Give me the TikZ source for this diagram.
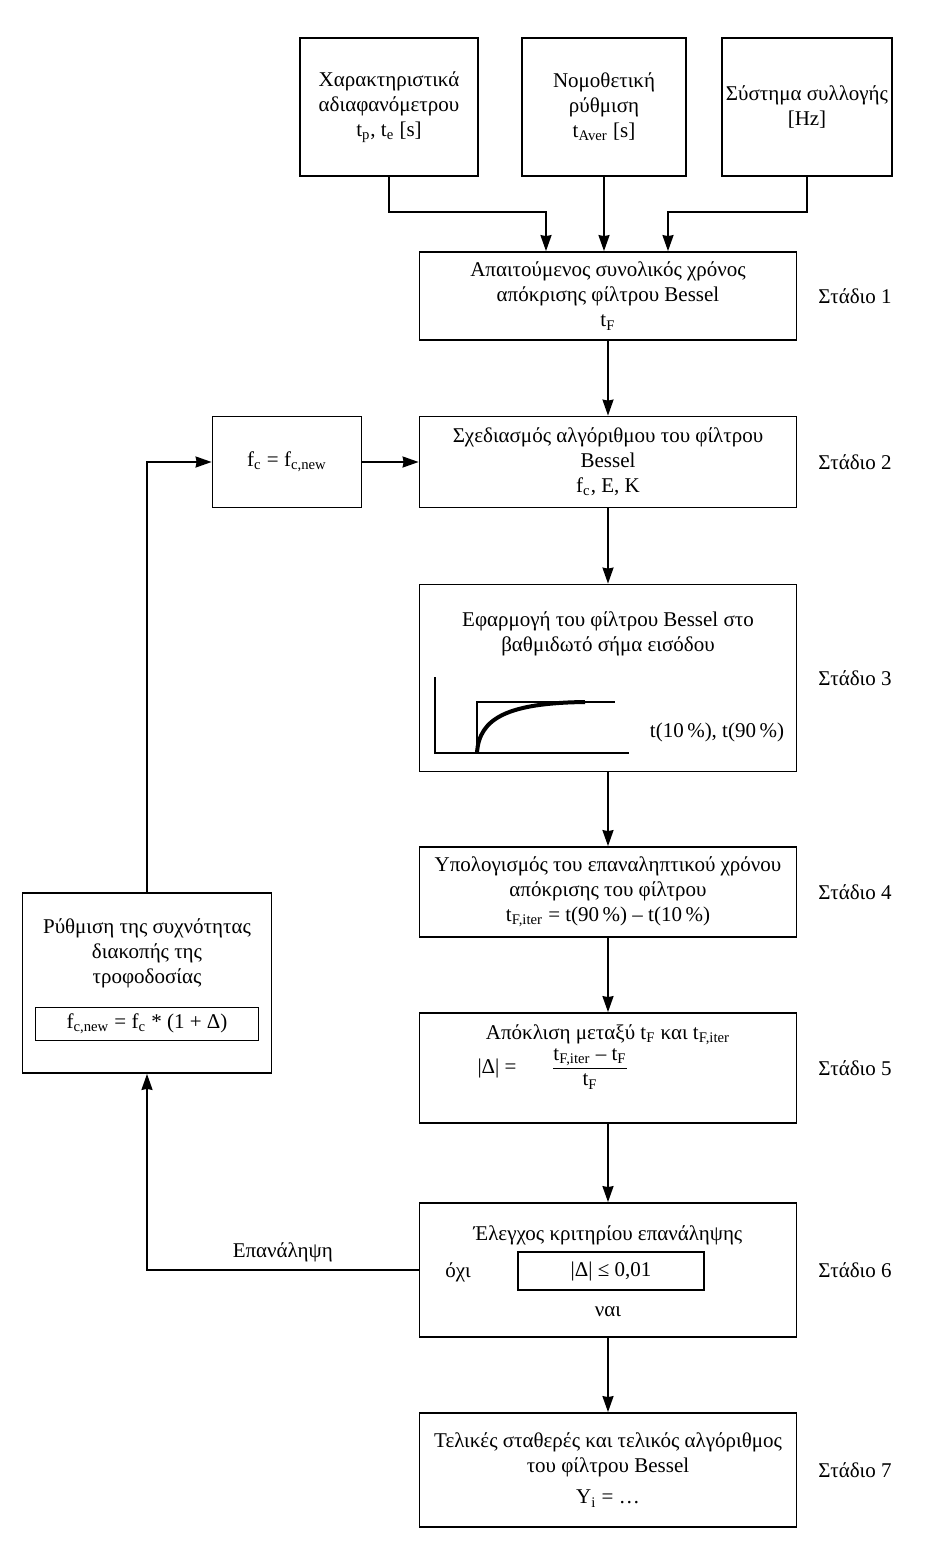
\documentclass[tikz,border=0pt]{standalone}
\usepackage{fontspec}
\setmainfont{Liberation Serif}
\usetikzlibrary{arrows.meta,positioning}

\tikzset{
  box/.style={draw, line width=0.9pt, align=center, inner sep=2pt},
  stage/.style={right=7pt of #1, anchor=west},
  flow/.style={->, line width=0.9pt},
}

\begin{document}
\begin{tikzpicture}[x=0.5pt, y=-0.5pt, >={Stealth[length=8pt,width=5.5pt,inset=0.5pt]},
    font=\fontsize{10.5}{12.5}\selectfont]
    \useasboundingbox (0,0) rectangle (934,1559);

    % Inputs
    \node[box, minimum width=89pt, minimum height=69pt] (char) at (389,107)
        {Χαρακτηριστικά\\αδιαφανόμετρου\\t\textsubscript{p}, t\textsubscript{e} [s]};
    \node[box, minimum width=82pt, minimum height=69pt] (law) at (604,107)
        {Νομοθετική\\ρύθμιση\\t\textsubscript{Aver} [s]};
    \node[box, minimum width=80pt, minimum height=69pt] (acq) at (807,107)
        {Σύστημα συλλογής\\{[Hz]}};

    % Stages
    \node[box, minimum width=188.5pt, minimum height=44pt] (s1) at (608,296)
        {Απαιτούμενος συνολικός χρόνος\\απόκρισης φίλτρου Bessel\\t\textsubscript{F}};
    \node[box, minimum width=188.5pt, minimum height=45.5pt] (s2) at (608,462)
        {Σχεδιασμός αλγόριθμου του φίλτρου\\Bessel\\f\textsubscript{c}, E, K};
    \node[box, minimum width=188.5pt, minimum height=93.5pt] (s3) at (608,678) {};
    \node[box, minimum width=188.5pt, minimum height=45pt] (s4) at (608,892)
        {Υπολογισμός του επαναληπτικού χρόνου\\απόκρισης του φίλτρου\\t\textsubscript{F,iter} = t(90\,\%) -- t(10\,\%)};
    \node[box, minimum width=188.5pt, minimum height=55pt] (s5) at (608,1068) {};
    \node[box, minimum width=188.5pt, minimum height=67pt] (s6) at (608,1270) {};
    \node[box, minimum width=188.5pt, minimum height=57pt] (s7) at (608,1470)
        {Τελικές σταθερές και τελικός αλγόριθμος\\του φίλτρου Bessel\\[3pt]Y\textsubscript{i} = \dots};

    % Contents of stage 3
    \node[align=center] (s3title) at (608,634) {Εφαρμογή του φίλτρου Bessel στο\\βαθμιδωτό σήμα εισόδου};
    \draw[line width=0.9pt] (435,677) -- (435,753) -- (629,753);
    \draw[line width=0.9pt] (477,753) -- (477,702) -- (615,702);
    \draw[line width=2pt] (477,753) .. controls (479,718) and (508,703) .. (585,702);
    \node (s3times) at (717,732) {t(10\,\%), t(90\,\%)};

    % Contents of stage 5
    \node (s5title) at (608,1035) {Απόκλιση μεταξύ t\textsubscript{F} και t\textsubscript{F,iter}};
    \node (dabs) at (497,1068) {|Δ| =};
    \node (ratio) at (590,1068) {\begin{tabular}{@{}c@{}}t\textsubscript{F,iter} -- t\textsubscript{F}\\\hline t\textsubscript{F}\end{tabular}};

    % Contents of stage 6
    \node (s6title) at (608,1235) {Έλεγχος κριτηρίου επανάληψης};
    \node[box, minimum width=93pt, minimum height=19pt] (crit) at (611,1271) {|Δ| ≤ 0,01};
    \node (no) at (458,1272) {όχι};
    \node (yes) at (608,1312) {ναι};

    % Feedback
    \node[box, minimum width=74.5pt, minimum height=45.5pt] (fc) at (287,462)
        {f\textsubscript{c} = f\textsubscript{c,new}};
    \node[box, minimum width=124.5pt, minimum height=90pt] (rf) at (147,983) {};
    \node[align=center] (rftitle) at (147,953) {Ρύθμιση της συχνότητας\\διακοπής της\\τροφοδοσίας};
    \node[box, minimum width=111.5pt, minimum height=16.5pt] (newf) at (147,1024)
        {f\textsubscript{c,new} = f\textsubscript{c} * (1 + Δ)};

    % Stage labels
    \foreach \n in {1,...,7}
        \node[stage=s\n] (st\n) {Στάδιο \n};

    % Connectors
    \draw[flow] (char.south) -- ++(0,35) -| ([xshift=-31pt]s1.north);
    \draw[flow] (law.south) -- (law.south |- s1.north);
    \draw[flow] (acq.south) -- ++(0,35) -| ([xshift=30pt]s1.north);
    \draw[flow] (s1) -- (s2);
    \draw[flow] (s2) -- (s3);
    \draw[flow] (s3) -- (s4);
    \draw[flow] (s4) -- (s5);
    \draw[flow] (s5) -- (s6);
    \draw[flow] (s6) -- (s7);
    \draw[flow] (fc) -- (s2);
    \draw[flow] (s6.west) -- node[above] {Επανάληψη} (s6.west -| rf.south) -- (rf.south);
    \draw[flow] (rf.north) -- (rf.north |- fc.west) -- (fc.west);
\end{tikzpicture}
\end{document}
